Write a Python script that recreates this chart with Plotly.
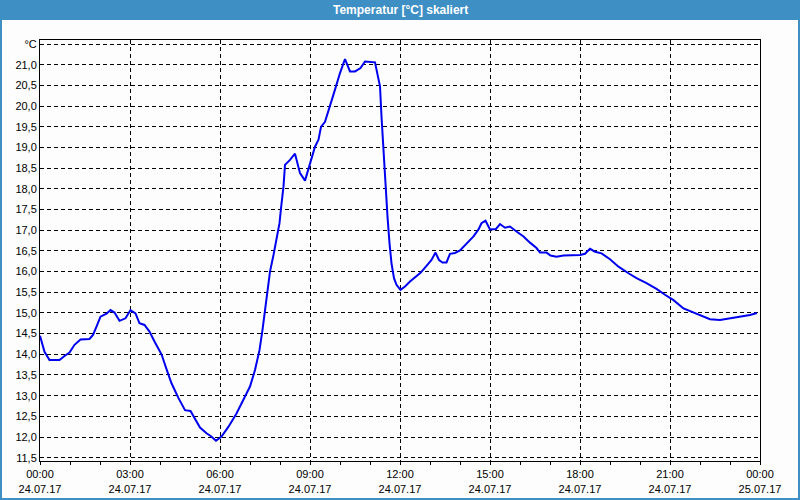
import plotly.graph_objects as go

# ---- data ----
times = ["00:00","00:09","00:19","00:39","00:49","00:59","01:09","01:21","01:39","01:46",
         "01:53","02:01","02:13","02:21","02:29","02:39","02:51","03:01","03:11","03:19",
         "03:29","03:39","03:49","04:03","04:13","04:23","04:37","04:50","05:01","05:10",
         "05:20","05:33","05:42","05:52","06:03","06:17","06:33","06:50","07:00","07:10",
         "07:19","07:25","07:30","07:35","07:40","07:47","07:52","07:59","08:02","08:07",
         "08:10","08:20","08:30","08:40","08:50","09:00","09:10","09:17","09:22","09:30",
         "09:40","09:50","10:00","10:10","10:20","10:30","10:41","10:50","11:10","11:20",
         "11:23","11:27","11:30","11:35","11:39","11:43","11:48","11:53","12:01","12:10",
         "12:20","12:32","12:41","12:53","13:03","13:11","13:18","13:25","13:33","13:40",
         "13:50","14:00","14:13","14:27","14:37","14:43","14:51","15:00","15:12","15:20",
         "15:30","15:40","15:53","16:07","16:20","16:33","16:40","16:53","17:01","17:13",
         "17:27","18:00","18:10","18:20","18:30","18:43","19:00","19:17","19:37","19:53",
         "20:13","20:33","20:50","21:07","21:27","21:47","22:07","22:20","22:40","23:00",
         "23:20","23:40","23:54"]
temps = [14.45,14.06,13.86,13.86,13.96,14.04,14.23,14.36,14.37,14.47,
         14.67,14.91,14.98,15.07,15.01,14.81,14.87,15.07,14.99,14.75,
         14.71,14.55,14.31,14.00,13.64,13.30,12.94,12.65,12.63,12.45,
         12.23,12.09,12.02,11.91,12.01,12.25,12.57,12.98,13.22,13.62,
         14.10,14.59,15.07,15.56,16.00,16.40,16.69,17.17,17.53,18.06,
         18.58,18.70,18.85,18.38,18.20,18.62,19.02,19.19,19.50,19.62,
         19.99,20.40,20.80,21.14,20.84,20.84,20.92,21.08,21.06,20.48,
         19.75,18.94,18.14,17.33,16.69,16.20,15.84,15.68,15.56,15.64,
         15.76,15.89,15.97,16.14,16.28,16.46,16.28,16.22,16.22,16.43,
         16.45,16.51,16.67,16.85,17.02,17.17,17.23,17.02,17.03,17.15,
         17.06,17.09,16.97,16.85,16.70,16.57,16.46,16.46,16.39,16.36,
         16.39,16.40,16.43,16.55,16.48,16.44,16.30,16.12,15.96,15.84,
         15.72,15.58,15.44,15.31,15.11,15.01,14.91,14.85,14.83,14.87,
         14.91,14.95,15.00]

x_tick_vals = ["2017-07-24 00:00","2017-07-24 03:00","2017-07-24 06:00","2017-07-24 09:00",
               "2017-07-24 12:00","2017-07-24 15:00","2017-07-24 18:00","2017-07-24 21:00",
               "2017-07-25 00:00"]
x_tick_text = ["00:00<br>24.07.17","03:00<br>24.07.17","06:00<br>24.07.17","09:00<br>24.07.17",
               "12:00<br>24.07.17","15:00<br>24.07.17","18:00<br>24.07.17","21:00<br>24.07.17",
               "00:00<br>25.07.17"]
y_tick_vals = [11.5,12.0,12.5,13.0,13.5,14.0,14.5,15.0,15.5,16.0,16.5,17.0,17.5,18.0,
               18.5,19.0,19.5,20.0,20.5,21.0,21.5]
y_tick_text = [f"{v:.1f}".replace(".", ",") for v in y_tick_vals[:-1]] + ["°C"]

title_text = "Temperatur [°C] skaliert"

x_dates = ["2017-07-24 " + t for t in times]

W, H = 800, 500
L, R, T, B = 40, 40, 40, 39
pw, ph = W - L - R, H - T - B

def px(x):
    return (x - L) / pw

def py(y):
    return (H - B - y) / ph

BLUE = "#3d8fc4"
FONT = "Liberation Sans"

fig = go.Figure()
fig.add_trace(go.Scatter(x=x_dates, y=temps, mode="lines",
                         line=dict(color="#0000f0", width=2), hoverinfo="skip",
                         showlegend=False))

shapes = [
    dict(type="rect", xref="paper", yref="paper", x0=px(0), x1=px(800), y0=py(20), y1=py(0),
         fillcolor=BLUE, line=dict(width=0), layer="above"),
    dict(type="rect", xref="paper", yref="paper", x0=px(0), x1=px(2), y0=py(500), y1=py(20),
         fillcolor=BLUE, line=dict(width=0), layer="above"),
    dict(type="rect", xref="paper", yref="paper", x0=px(798), x1=px(800), y0=py(500), y1=py(20),
         fillcolor=BLUE, line=dict(width=0), layer="above"),
    dict(type="rect", xref="paper", yref="paper", x0=px(0), x1=px(800), y0=py(500), y1=py(498),
         fillcolor=BLUE, line=dict(width=0), layer="above"),
]

fig.update_layout(
    width=W, height=H,
    margin=dict(l=L, r=R, t=T, b=B, pad=0),
    paper_bgcolor="#fcfdfc", plot_bgcolor="#fcfdfc",
    shapes=shapes,
    annotations=[dict(text=title_text, xref="paper", yref="paper", x=0.5, y=py(10),
                      xanchor="center", yanchor="middle", showarrow=False,
                      font=dict(family=FONT, size=12, color="white", weight="bold"))],
    xaxis=dict(type="date", range=["2017-07-24 00:00", "2017-07-25 00:00"],
               tickvals=x_tick_vals, ticktext=x_tick_text,
               tickfont=dict(family=FONT, size=11, color="black"),
               showgrid=True, gridcolor="black", gridwidth=1, griddash="4px,3px",
               showline=True, linecolor="black", linewidth=1, mirror=True,
               ticks="outside", ticklen=3, tickcolor="black",
               minor=dict(dtick=3600000, ticks="outside", ticklen=3, tickcolor="black",
                          showgrid=False),
               zeroline=False, automargin=False, fixedrange=True),
    yaxis=dict(range=[11.42, 21.6], tickvals=y_tick_vals, ticktext=y_tick_text,
               tickfont=dict(family=FONT, size=11, color="black"),
               showgrid=True, gridcolor="black", gridwidth=1, griddash="4px,3px",
               showline=True, linecolor="black", linewidth=1, mirror=True,
               ticks="", zeroline=False, automargin=False, fixedrange=True),
)

fig.write_html("out.html", config={"displayModeBar": False})
